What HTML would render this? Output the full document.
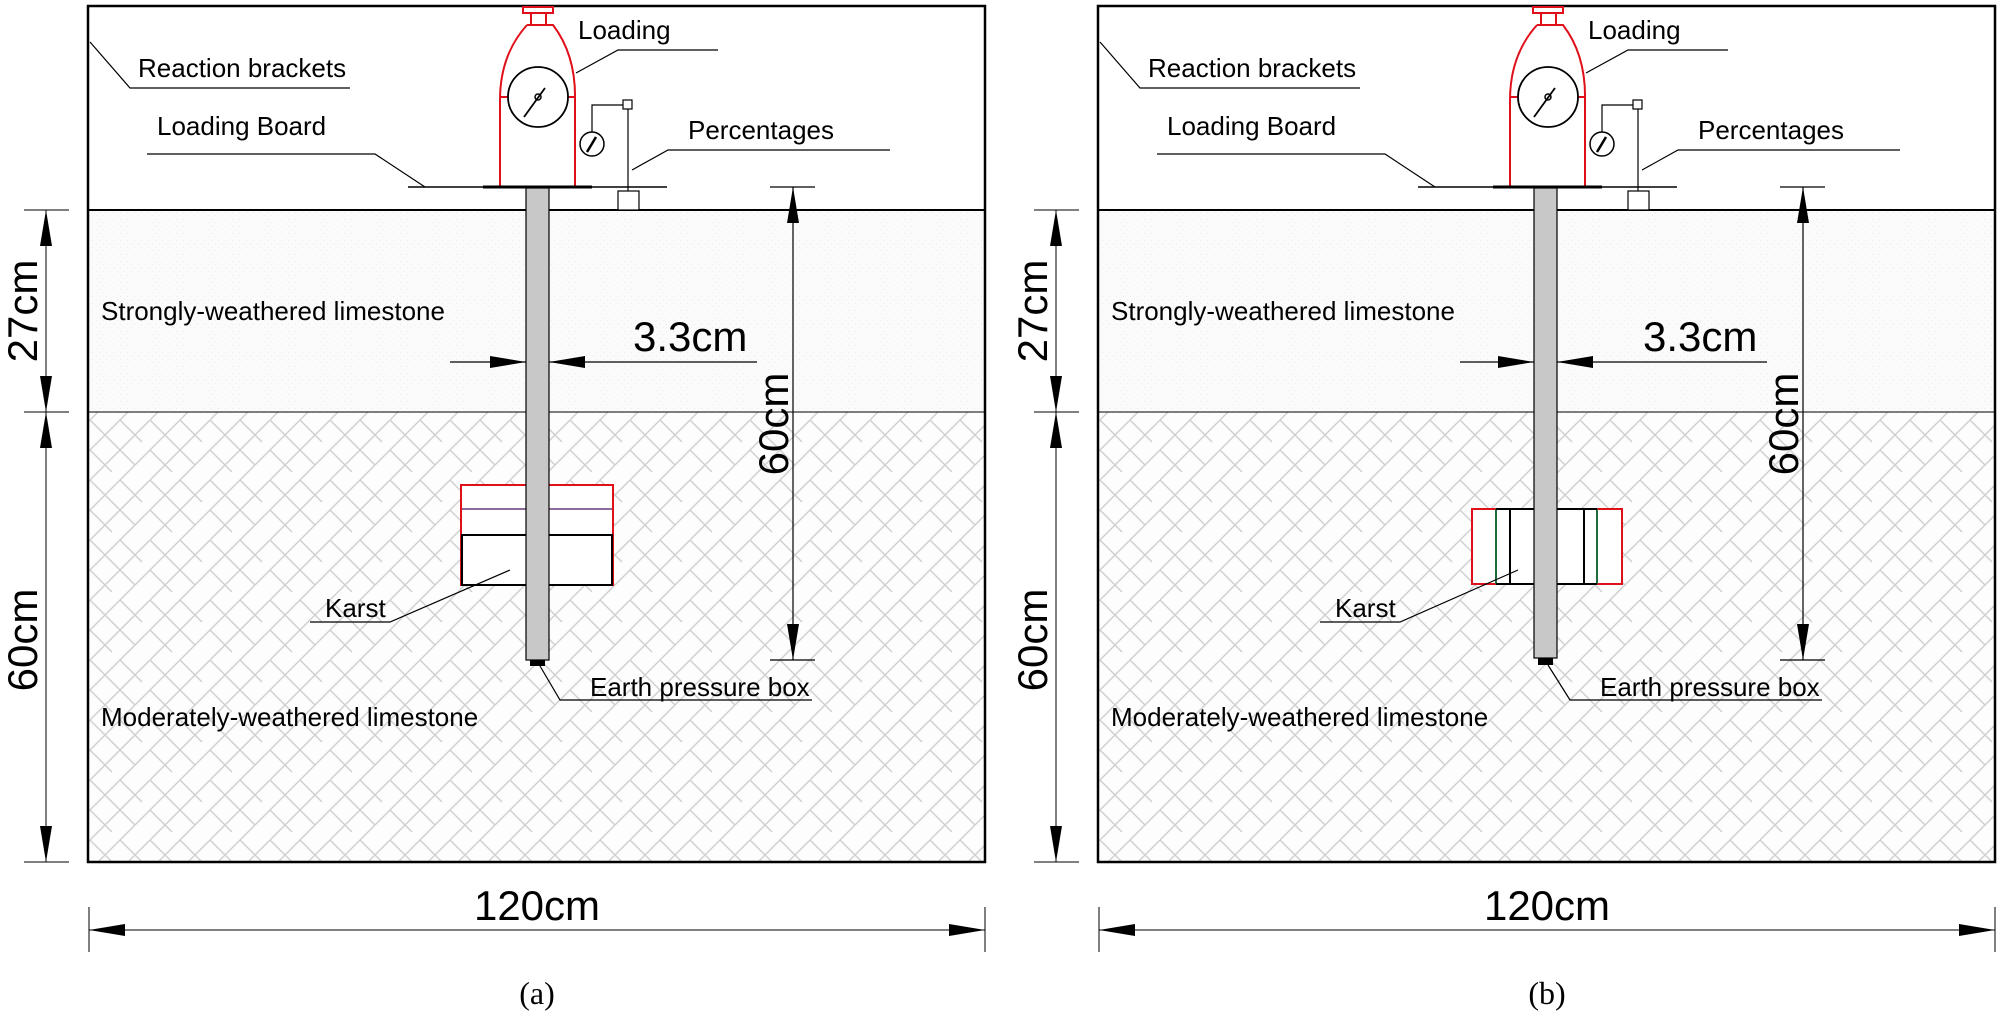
<!DOCTYPE html>
<html><head><meta charset="utf-8"><style>html,body{margin:0;padding:0;background:#fff}svg{display:block}</style></head>
<body>
<svg width="2000" height="1025" viewBox="0 0 2000 1025" xmlns="http://www.w3.org/2000/svg" font-family="Liberation Sans, Arial, sans-serif">
<defs>
<pattern id="hatch" width="60" height="60" patternUnits="userSpaceOnUse">
<rect width="60" height="60" fill="#fdfdfd"/>
<path d="M0 60 L60 0 M-15 15 L15 -15 M45 75 L75 45 M0 30 L30 0 M30 60 L60 30" stroke="#cfcfcf" stroke-width="1.4"/>
<path d="M0 0 L22 22 M30 30 L52 52 M30 0 L45 15 M0 30 L15 45 M45 15 L60 30" stroke="#cfcfcf" stroke-width="1.4"/>
</pattern>
<pattern id="stip" width="7" height="7" patternUnits="userSpaceOnUse">
<rect width="7" height="7" fill="#fbfbfb"/><rect x="1" y="2" width="1" height="1" fill="#ebebeb"/><rect x="5" y="5" width="1" height="1" fill="#efefef"/>
</pattern>
<g id="common">
<rect x="88" y="210" width="897" height="202" fill="url(#stip)"/>
<rect x="88" y="412" width="897" height="450" fill="url(#hatch)"/>
<rect x="88" y="6" width="897" height="856" fill="none" stroke="#000" stroke-width="2.5"/>
<line x1="88" y1="210" x2="985" y2="210" stroke="#000" stroke-width="2"/>
<line x1="88" y1="412" x2="985" y2="412" stroke="#000" stroke-width="1"/>
<g stroke="#000" stroke-width="1">
<line x1="24" y1="210" x2="69" y2="210"/><line x1="24" y1="412" x2="69" y2="412"/><line x1="24" y1="862" x2="69" y2="862"/>
<line x1="46" y1="210" x2="46" y2="862"/>
<line x1="89" y1="907" x2="89" y2="952"/><line x1="985" y1="907" x2="985" y2="952"/>
<line x1="89" y1="930" x2="985" y2="930"/>
</g>
<g fill="#000">
<path d="M46 210 l-6 36 h12z"/><path d="M46 412 l-6 -36 h12z"/>
<path d="M46 412 l-6 36 h12z"/><path d="M46 862 l-6 -36 h12z"/>
<path d="M89 930 l36 -6 v12z"/><path d="M985 930 l-36 -6 v12z"/>
</g>
<text transform="translate(37,311) rotate(-90)" font-size="42" text-anchor="middle">27cm</text>
<text transform="translate(37,640) rotate(-90)" font-size="42" text-anchor="middle">60cm</text>
<text x="537" y="920" font-size="42" text-anchor="middle">120cm</text>
<g stroke="#000" stroke-width="1.2" fill="none">
<path d="M90 42 L130 88 H350"/>
<path d="M147 154 H375 L425 187"/>
<path d="M576 73 L618 50 H718"/>
<path d="M632 170 L668 150 H890"/>
<path d="M770 187 H815 M770 660 H815 M793 187 V660"/>
<path d="M450 362 H757"/>
</g>
<g fill="#000"><path d="M793 187 l-6 36 h12z"/><path d="M793 660 l-6 -36 h12z"/></g>
<text transform="translate(788,424) rotate(-90)" font-size="42" text-anchor="middle">60cm</text>
<g font-size="26" fill="#000">
<text x="138" y="77">Reaction brackets</text>
<text x="157" y="135">Loading Board</text>
<text x="578" y="39">Loading</text>
<text x="688" y="139">Percentages</text>
<text x="101" y="320">Strongly-weathered limestone</text>
<text x="101" y="726">Moderately-weathered limestone</text>
<text x="325" y="617">Karst</text>
<text x="590" y="696">Earth pressure box</text>
</g>
<text x="633" y="351" font-size="42">3.3cm</text>
<g stroke="#e0101a" stroke-width="2" fill="#fff">
<rect x="523" y="7" width="30" height="6"/>
<rect x="531" y="13" width="15" height="12"/>
<path d="M527 25 H553 Q576 55 575 100 V187 M527 25 Q500 55 500 100 V187"/>
<path d="M500 97 H508 M568 97 H575"/>
</g>
<circle cx="538" cy="97" r="30" fill="#fff" stroke="#000" stroke-width="1.8"/>
<circle cx="538" cy="97" r="3" fill="none" stroke="#000" stroke-width="1.5"/>
<line x1="524" y1="117" x2="545" y2="88" stroke="#000" stroke-width="1.8"/>
<circle cx="592" cy="144" r="12" fill="#fff" stroke="#000" stroke-width="1.5"/>
<line x1="587" y1="152" x2="596" y2="137" stroke="#000" stroke-width="2.5"/>
<path d="M592 132 V105 H623" fill="none" stroke="#000" stroke-width="1.2"/>
<rect x="623" y="100" width="9" height="9" fill="#fff" stroke="#000" stroke-width="1.2"/>
<line x1="628" y1="109" x2="628" y2="191" stroke="#000" stroke-width="1.2"/>
<rect x="618" y="191" width="21" height="19" fill="#fff" stroke="#000" stroke-width="1.2"/>
<line x1="408" y1="187" x2="667" y2="187" stroke="#000" stroke-width="1.5"/>
<line x1="483" y1="187" x2="592" y2="187" stroke="#000" stroke-width="3"/>
</g>
</defs>

<use href="#common"/>
<g>
<rect x="461" y="485" width="152" height="100" fill="#fff" stroke="#e0101a" stroke-width="2"/>
<line x1="462" y1="509" x2="612" y2="509" stroke="#6a3a7a" stroke-width="1.5"/>
<rect x="462" y="535" width="150" height="50" fill="none" stroke="#000" stroke-width="2"/>
<rect x="526" y="188" width="23" height="472" fill="#c8c8c8" stroke="#000" stroke-width="1.2"/>
<rect x="530" y="660" width="15" height="6" fill="#000"/>
<g stroke="#000" stroke-width="1.2" fill="none">
<path d="M310 622 H390 L510 570"/>
<path d="M540 666 L560 700 H812"/>
</g>
<g fill="#000"><path d="M526 362 l-36 -6 v12z"/><path d="M549 362 l36 -6 v12z"/></g>
<text x="537" y="1004" font-family="Liberation Serif, serif" font-size="32" text-anchor="middle">(a)</text>
</g>

<g transform="translate(1010,0)">
<use href="#common"/>
<rect x="462" y="509" width="150" height="75" fill="#fff" stroke="#e0101a" stroke-width="2"/>
<line x1="486" y1="509" x2="486" y2="584" stroke="#1f6a3a" stroke-width="2"/>
<line x1="587" y1="509" x2="587" y2="584" stroke="#1f6a3a" stroke-width="2"/>
<rect x="500" y="509" width="74" height="75" fill="none" stroke="#000" stroke-width="2"/>
<line x1="486" y1="509" x2="500" y2="509" stroke="#000" stroke-width="2"/>
<line x1="486" y1="584" x2="500" y2="584" stroke="#000" stroke-width="2"/>
<line x1="574" y1="509" x2="587" y2="509" stroke="#000" stroke-width="2"/>
<line x1="574" y1="584" x2="587" y2="584" stroke="#000" stroke-width="2"/>
<rect x="524" y="188" width="23" height="470" fill="#c8c8c8" stroke="#000" stroke-width="1.2"/>
<rect x="528" y="658" width="15" height="7" fill="#000"/>
<g stroke="#000" stroke-width="1.2" fill="none">
<path d="M310 622 H390 L508 570"/>
<path d="M538 665 L560 700 H812"/>
</g>
<g fill="#000"><path d="M524 362 l-36 -6 v12z"/><path d="M547 362 l36 -6 v12z"/></g>
<text x="537" y="1004" font-family="Liberation Serif, serif" font-size="32" text-anchor="middle">(b)</text>
</g>
</svg>
</body></html>
